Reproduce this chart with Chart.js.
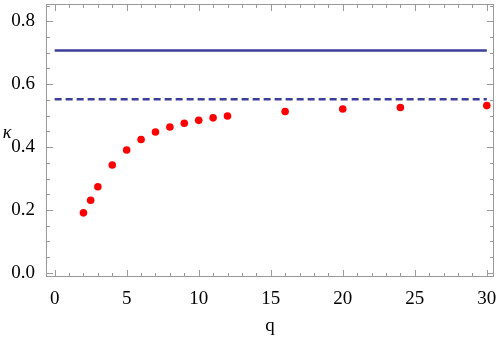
<!DOCTYPE html>
<html lang="en">
<head>
  <meta charset="UTF-8">
  <title>kappa vs q</title>
  <script src="https://cdn.jsdelivr.net/npm/chart.js"></script>
  <style>
    body { margin: 0; background: #fff; }
    #wrap { width: 498px; height: 339px; }
  </style>
</head>
<body>
  <div id="wrap"><canvas id="chart" width="498" height="339"></canvas></div>

  <script>
    // data
    const qValues = [2, 2.5, 3, 4, 5, 6, 7, 8, 9, 10, 11, 12, 16, 20, 24, 30];
    const kappaValues = [0.191, 0.231, 0.274, 0.343, 0.391, 0.424, 0.448, 0.464, 0.476, 0.485, 0.493, 0.499, 0.513, 0.521, 0.526, 0.532];
    const lineQ = [0, 30];
    const solidLevel = [0.707, 0.707];
    const dashedLevel = [0.552, 0.552];
    const xTicks = [0, 5, 10, 15, 20, 25, 30];
    const yTicks = [0.0, 0.2, 0.4, 0.6, 0.8];

    const toPoints = (xs, ys) => xs.map((x, i) => ({ x: x, y: ys[i] }));
    const blue = '#3d3d9b';
    const frameColor = '#9a9a9a';
    const fontFamily = '"Liberation Serif"';
    Chart.defaults.font.family = fontFamily;

    // frame with inward ticks, like the original
    const framePlugin = {
      id: 'frame',
      afterDatasetsDraw(chart) {
        const { ctx, chartArea: a, scales } = chart;
        const xs = scales.x, ys = scales.y;
        ctx.save();
        ctx.strokeStyle = frameColor;
        ctx.lineWidth = 1;
        ctx.strokeRect(a.left + 0.5, a.top + 0.5, a.right - a.left - 1, a.bottom - a.top - 1);
        ctx.beginPath();
        for (let v = 0; v <= 30; v += 1) {
          const px = Math.round(xs.getPixelForValue(v)) + 0.5;
          const len = v % 5 === 0 ? 7 : 4;
          ctx.moveTo(px, a.bottom); ctx.lineTo(px, a.bottom - len);
          ctx.moveTo(px, a.top); ctx.lineTo(px, a.top + len);
        }
        for (let i = 0; i <= 17; i++) {
          const v = i * 0.05;
          const py = Math.round(ys.getPixelForValue(v)) + 0.5;
          const len = i % 4 === 0 ? 7 : 4;
          ctx.moveTo(a.left, py); ctx.lineTo(a.left + len, py);
          ctx.moveTo(a.right, py); ctx.lineTo(a.right - len, py);
        }
        ctx.stroke();

        ctx.fillStyle = '#000';
        ctx.font = 'italic 18px ' + fontFamily;
        ctx.textAlign = 'center';
        ctx.textBaseline = 'middle';
        ctx.fillText('κ', 7, 133);
        ctx.font = '19px ' + fontFamily;
        ctx.fillText('q', 270, 326);
        ctx.restore();
      }
    };

    const noPad = s => { s.paddingTop = 0; s.paddingBottom = 0; s.paddingLeft = 0; s.paddingRight = 0; };

    new Chart(document.getElementById('chart'), {
      type: 'scatter',
      data: {
        datasets: [
          {
            label: 'solid',
            type: 'line',
            data: toPoints(lineQ, solidLevel),
            borderColor: blue,
            borderWidth: 2.4,
            pointRadius: 0
          },
          {
            label: 'dashed',
            type: 'line',
            data: toPoints(lineQ, dashedLevel),
            borderColor: blue,
            borderWidth: 2.4,
            borderDash: [7, 4],
            pointRadius: 0
          },
          {
            label: 'kappa',
            data: toPoints(qValues, kappaValues),
            backgroundColor: '#ff0000',
            borderWidth: 0,
            pointRadius: 3.8
          }
        ]
      },
      options: {
        responsive: false,
        animation: false,
        layout: { padding: { top: 1, right: 4, left: 0, bottom: 0 } },
        plugins: { legend: { display: false }, tooltip: { enabled: false } },
        scales: {
          x: {
            type: 'linear',
            min: -0.6,
            max: 30.5,
            afterBuildTicks: s => { s.ticks = xTicks.map(v => ({ value: v })); },
            afterFit: s => { s.height = 62; noPad(s); },
            grid: { display: false },
            border: { display: false },
            ticks: {
              color: '#000',
              padding: 3,
              maxRotation: 0,
              font: { family: fontFamily, size: 19 },
              callback: v => String(v)
            }
          },
          y: {
            type: 'linear',
            min: -0.013,
            max: 0.855,
            afterBuildTicks: s => { s.ticks = yTicks.map(v => ({ value: v })); },
            afterFit: s => { s.width = 46; noPad(s); },
            grid: { display: false },
            border: { display: false },
            ticks: {
              color: '#000',
              padding: 3,
              font: { family: fontFamily, size: 19 },
              callback: v => Number(v).toFixed(1)
            }
          }
        }
      },
      plugins: [framePlugin]
    });
  </script>
</body>
</html>
